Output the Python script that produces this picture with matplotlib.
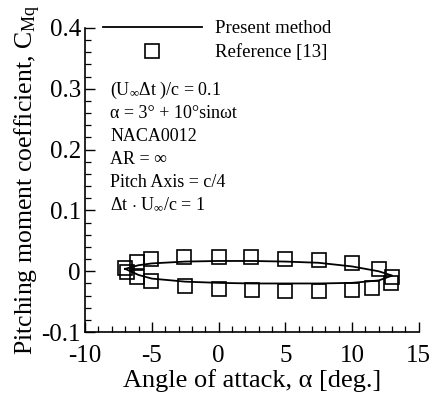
import matplotlib
matplotlib.use("Agg")
import matplotlib.pyplot as plt
from matplotlib.ticker import MultipleLocator

plt.rcParams['font.family'] = ['Liberation Serif', 'DejaVu Serif']
plt.rcParams['mathtext.fontset'] = 'custom'
plt.rcParams['mathtext.rm'] = 'Liberation Serif'
plt.rcParams['mathtext.it'] = 'Liberation Serif:italic'
plt.rcParams['mathtext.sf'] = 'Liberation Serif'
plt.rcParams['axes.unicode_minus'] = False

# Present method (closed loop)
line_alpha = [-7.0, -6.0, -5.0, -2.5, 0.0, 2.5, 5.0, 7.5, 10.0, 12.0, 13.0,
              12.0, 10.0, 7.5, 5.0, 2.5, 0.0, -2.5, -5.0, -6.0, -7.0]
line_cm = [0.004, 0.010, 0.013, 0.016, 0.017, 0.017, 0.016, 0.014, 0.008, 0.000, -0.007,
           -0.015, -0.019, -0.020, -0.020, -0.020, -0.019, -0.017, -0.012, -0.006, 0.004]

# Reference [13]
ref_alpha = [-7.0, -6.1, -5.1, -2.6, 0.0, 2.4, 5.0, 7.5, 10.0, 12.0, 13.0,
             -6.9, -6.1, -5.1, -2.5, 0.0, 2.5, 5.0, 7.5, 10.0, 11.5, 12.9]
ref_cm = [0.006, 0.015, 0.020, 0.024, 0.024, 0.024, 0.021, 0.019, 0.013, 0.004, -0.010,
          -0.001, -0.010, -0.016, -0.024, -0.029, -0.031, -0.032, -0.032, -0.030, -0.027, -0.019]

annotations = [r"(U$_\infty$$\Delta$t )/c = 0.1",
               "\u03b1 = 3\u00b0 + 10\u00b0sin\u03c9t",
               "NACA0012",
               "AR = \u221e",
               "Pitch Axis = c/4",
               r"$\Delta$t $\cdot$ U$_\infty$/c = 1"]

fig = plt.figure(figsize=(4.30, 3.94), dpi=100)
ax = fig.add_axes([0.198, 0.157, 0.776, 0.772])

ax.plot(line_alpha, line_cm, color='black', lw=1.3, label='Present method')
ax.plot(ref_alpha, ref_cm, linestyle='none', marker='s', markersize=9.5,
        markerfacecolor='none', markeredgecolor='black', markeredgewidth=1.2,
        label='Reference [13]')

ax.set_xlim(-10, 15)
ax.set_ylim(-0.1, 0.4)
ax.xaxis.set_minor_locator(MultipleLocator(1))
ax.yaxis.set_minor_locator(MultipleLocator(0.02))
ax.set_xticks([-10, -5, 0, 5, 10, 15])
ax.set_xticklabels(['-10', '-5', '0', '5', '10', '15'])
ax.set_yticks([-0.1, 0, 0.1, 0.2, 0.3, 0.4])
ax.set_yticklabels(['-0.1', '0', '0.1', '0.2', '0.3', '0.4'])

ax.spines['top'].set_visible(False)
ax.spines['right'].set_visible(False)
for s in ('left', 'bottom'):
    ax.spines[s].set_linewidth(1.2)
ax.tick_params(which='major', direction='in', length=7, width=1.0, labelsize=18)
ax.tick_params(axis='y', which='major', pad=3)
ax.tick_params(axis='x', which='major', pad=9)
ax.tick_params(which='minor', direction='in', length=4, width=0.9)

ax.set_xlabel("Angle of attack, \u03b1 [deg.]", fontsize=19, labelpad=2)
ax.set_ylabel(r"Pitching moment coefficient, C$_{\mathrm{Mq}}$", fontsize=18.5, labelpad=-1)

ax.legend(loc='upper left', bbox_to_anchor=(0.03, 1.05), frameon=False,
          fontsize=13.5, handlelength=5.3, handletextpad=0.7,
          labelspacing=0.35, borderaxespad=0)

for i, t in enumerate(annotations):
    ax.text(0.075, 0.795 - i * 0.0755, t, transform=ax.transAxes, fontsize=13,
            va='center', ha='left')

fig.savefig("out.png", dpi=100)
